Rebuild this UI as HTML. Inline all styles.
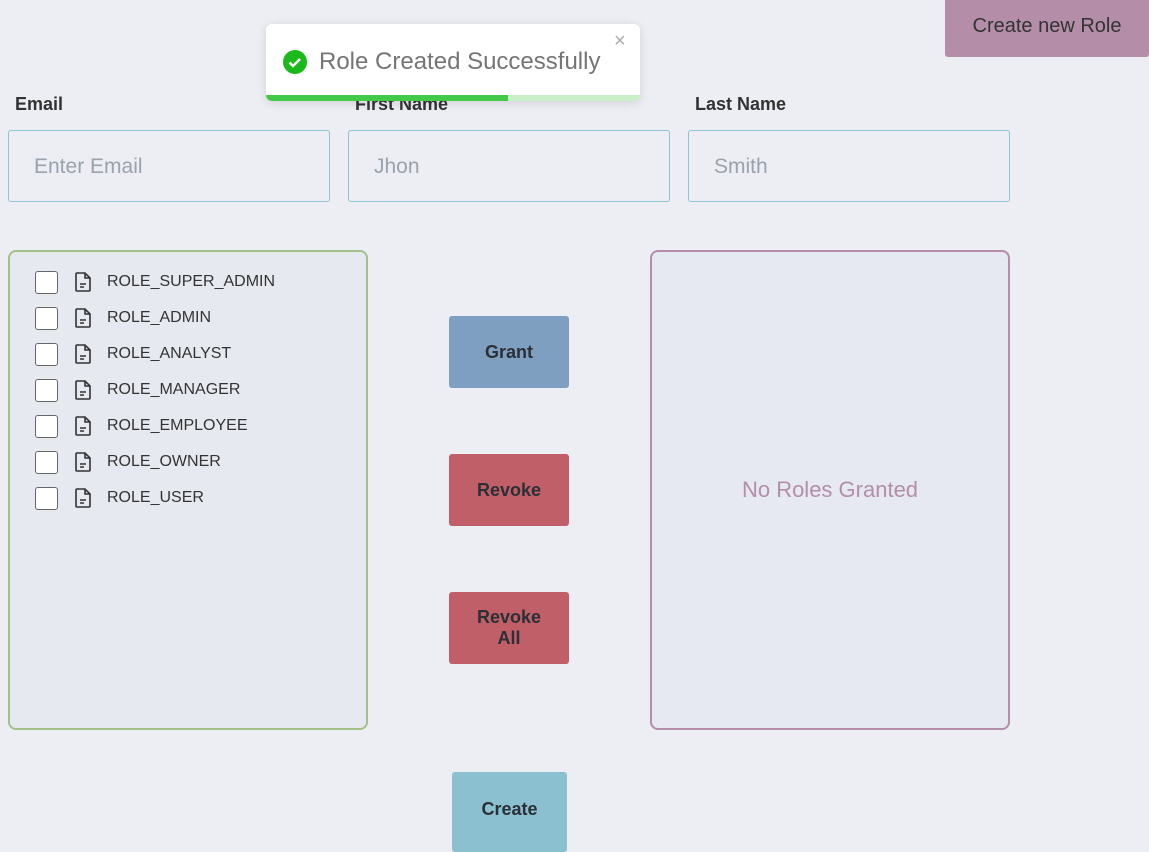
<!DOCTYPE html>
<html><head><style>
body{margin:0;width:1149px;height:837px;background:#eceef3;font-family:"Liberation Sans",sans-serif;position:relative;overflow:hidden;color:#2b2f36}
.a{position:absolute}
.lbl{font-size:18px;font-weight:bold;color:#333}
.inp{border:1px solid #8ec5d3;border-radius:3px;height:72px;width:322px;box-sizing:border-box;padding-left:25px;line-height:72px;font-size:21px;color:#9aa2ad}
.btn{width:120px;height:72px;border-radius:3px;display:flex;align-items:center;justify-content:center;text-align:center;font-size:18px;font-weight:bold;color:#2b2f36;line-height:21px}
.row{position:absolute;left:25px;height:24px;display:flex;align-items:center}
.cb{width:21px;height:21px;border:1.5px solid #666;border-radius:3px;background:#fff}
.row span{margin-left:49px;font-size:16px;color:#333}
.row svg{position:absolute;left:39px;top:2px}
</style></head><body>
<div class="a" style="left:945px;top:-5px;width:204px;height:62px;background:#b48ea8;border-radius:3px;color:#333;font-size:20px;display:flex;align-items:center;justify-content:center;padding-top:0px;box-sizing:border-box">Create new Role</div>

<div class="a lbl" style="left:15px;top:94px">Email</div>
<div class="a lbl" style="left:355px;top:94px">First Name</div>
<div class="a lbl" style="left:695px;top:94px">Last Name</div>
<div class="a inp" style="left:8px;top:130px">Enter Email</div>
<div class="a inp" style="left:348px;top:130px">Jhon</div>
<div class="a inp" style="left:688px;top:130px">Smith</div>

<div class="a" style="left:8px;top:250px;width:360px;height:480px;box-sizing:border-box;border:2px solid #a3c08a;border-radius:8px;background:#e6e9f0">
<div class="row" style="top:18px"><div class="cb"></div><svg width="18" height="20" viewBox="0 0 18 20"><path d="M3 1h8l5 5v12a1 1 0 0 1-1 1H3a1 1 0 0 1-1-1V2a1 1 0 0 1 1-1zM11 1v5h5M6 12h6M6 15h4" fill="none" stroke="#333" stroke-width="1.6"/></svg><span>ROLE_SUPER_ADMIN</span></div>
<div class="row" style="top:54px"><div class="cb"></div><svg width="18" height="20" viewBox="0 0 18 20"><path d="M3 1h8l5 5v12a1 1 0 0 1-1 1H3a1 1 0 0 1-1-1V2a1 1 0 0 1 1-1zM11 1v5h5M6 12h6M6 15h4" fill="none" stroke="#333" stroke-width="1.6"/></svg><span>ROLE_ADMIN</span></div>
<div class="row" style="top:90px"><div class="cb"></div><svg width="18" height="20" viewBox="0 0 18 20"><path d="M3 1h8l5 5v12a1 1 0 0 1-1 1H3a1 1 0 0 1-1-1V2a1 1 0 0 1 1-1zM11 1v5h5M6 12h6M6 15h4" fill="none" stroke="#333" stroke-width="1.6"/></svg><span>ROLE_ANALYST</span></div>
<div class="row" style="top:126px"><div class="cb"></div><svg width="18" height="20" viewBox="0 0 18 20"><path d="M3 1h8l5 5v12a1 1 0 0 1-1 1H3a1 1 0 0 1-1-1V2a1 1 0 0 1 1-1zM11 1v5h5M6 12h6M6 15h4" fill="none" stroke="#333" stroke-width="1.6"/></svg><span>ROLE_MANAGER</span></div>
<div class="row" style="top:162px"><div class="cb"></div><svg width="18" height="20" viewBox="0 0 18 20"><path d="M3 1h8l5 5v12a1 1 0 0 1-1 1H3a1 1 0 0 1-1-1V2a1 1 0 0 1 1-1zM11 1v5h5M6 12h6M6 15h4" fill="none" stroke="#333" stroke-width="1.6"/></svg><span>ROLE_EMPLOYEE</span></div>
<div class="row" style="top:198px"><div class="cb"></div><svg width="18" height="20" viewBox="0 0 18 20"><path d="M3 1h8l5 5v12a1 1 0 0 1-1 1H3a1 1 0 0 1-1-1V2a1 1 0 0 1 1-1zM11 1v5h5M6 12h6M6 15h4" fill="none" stroke="#333" stroke-width="1.6"/></svg><span>ROLE_OWNER</span></div>
<div class="row" style="top:234px"><div class="cb"></div><svg width="18" height="20" viewBox="0 0 18 20"><path d="M3 1h8l5 5v12a1 1 0 0 1-1 1H3a1 1 0 0 1-1-1V2a1 1 0 0 1 1-1zM11 1v5h5M6 12h6M6 15h4" fill="none" stroke="#333" stroke-width="1.6"/></svg><span>ROLE_USER</span></div>
</div>

<div class="a btn" style="left:449px;top:316px;background:#7f9fc0">Grant</div>
<div class="a btn" style="left:449px;top:454px;background:#c05f68">Revoke</div>
<div class="a btn" style="left:449px;top:592px;background:#c05f68">Revoke<br>All</div>
<div class="a btn" style="left:452px;top:772px;width:115px;height:80px;background:#8ac0cf;align-items:flex-start;padding-top:27px;box-sizing:border-box">Create</div>

<div class="a" style="left:650px;top:250px;width:360px;height:480px;box-sizing:border-box;border:2px solid #b48ea8;border-radius:8px;background:#e6e9f1;display:flex;align-items:center;justify-content:center;font-size:22px;color:#b48ea8">No Roles Granted</div>

<div class="a" style="left:266px;top:24px;width:374px;height:77px;background:#fff;border-radius:6px;box-shadow:0 2px 10px rgba(0,0,0,.12);overflow:hidden">
<svg class="a" style="left:17px;top:26px" width="24" height="24" viewBox="0 0 24 24"><circle cx="12" cy="12" r="12" fill="#1cb91c"/><path d="M6.5 12.5l3.5 3.5 7-7" fill="none" stroke="#fff" stroke-width="2.4"/></svg>
<div class="a" style="left:53px;top:24px;font-size:24px;color:#757575">Role Created Successfully</div>
<div class="a" style="left:348px;top:6px;font-size:20px;color:#aaa">×</div>
<div class="a" style="left:0;top:71px;width:374px;height:6px;background:#c8efc8"></div>
<div class="a" style="left:0;top:71px;width:242px;height:6px;background:#42c94a"></div>
</div>
</body></html>
